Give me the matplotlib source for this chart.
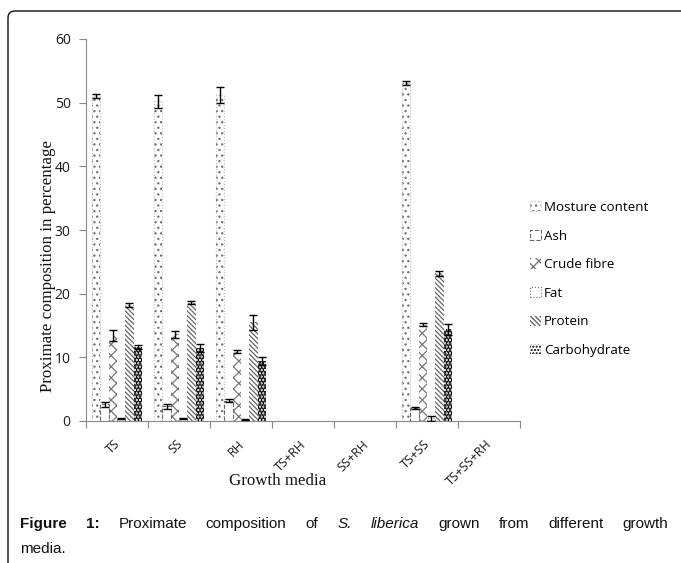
import numpy as np
import matplotlib
matplotlib.use('Agg')
import matplotlib.pyplot as plt
from matplotlib.path import Path
from matplotlib.patches import PathPatch
from matplotlib.transforms import IdentityTransform, ScaledTranslation
from matplotlib.legend_handler import HandlerTuple

# ---------------- data ----------------
categories = ['TS', 'SS', 'RH', 'TS+RH', 'SS+RH', 'TS+SS', 'TS+SS+RH']
series = ['Mosture content', 'Ash', 'Crude fibre', 'Fat', 'Protein', 'Carbohydrate']
nan = np.nan
moisture = [51.1, 50.2, 51.2, nan, nan, 53.1, nan]
moisture_err = [0.3, 1.0, 1.2, nan, nan, 0.25, nan]
ash = [2.6, 2.3, 3.2, nan, nan, 2.0, nan]
ash_err = [0.35, 0.35, 0.25, nan, nan, 0.15, nan]
crude_fibre = [13.4, 13.6, 10.9, nan, nan, 15.1, nan]
crude_fibre_err = [0.9, 0.6, 0.2, nan, nan, 0.25, nan]
fat = [0.4, 0.4, 0.2, nan, nan, 0.4, nan]
fat_err = [0.1, 0.1, 0.1, nan, nan, 0.35, nan]
protein = [18.2, 18.6, 15.5, nan, nan, 23.2, nan]
protein_err = [0.3, 0.3, 1.2, nan, nan, 0.35, nan]
carbohydrate = [11.6, 11.5, 9.4, nan, nan, 14.4, nan]
carbohydrate_err = [0.3, 0.6, 0.6, nan, nan, 0.9, nan]
y_ticks = [0, 10, 20, 30, 40, 50, 60]

values = [moisture, ash, crude_fibre, fat, protein, carbohydrate]
errors = [moisture_err, ash_err, crude_fibre_err, fat_err, protein_err, carbohydrate_err]

# ---------------- styles ----------------
styles = [
    dict(hatch='...', hcolor='#707070', hlw=0.9, edge='#bbbbbb', ls=':'),
    dict(hatch='', hcolor='#666666', hlw=1.0, edge='#666666', ls='--'),
    dict(hatch='xxx', hcolor='#777777', hlw=0.9, edge='none', ls='-'),
    dict(hatch='', hcolor='#777777', hlw=0.9, edge='#777777', ls=':'),
    dict(hatch='\\\\\\\\\\\\\\', hcolor='#666666', hlw=0.9, edge='none', ls='-'),
    dict(hatch='.....', hcolor='#000000', hlw=2.2, edge='none', ls='-'),
]

W, H = 681, 563
fig = plt.figure(figsize=(W / 100, H / 100), dpi=100)
ax = fig.add_axes([86 / W, (H - 421) / H, 434 / W, 382 / H])

sans = ['Open Sans', 'DejaVu Sans']
serif = ['Liberation Serif', 'DejaVu Serif']

x = np.arange(len(categories))
n = len(series)
bw = 1 / 7.5
handles = []
for i, (vals, errs, st) in enumerate(zip(values, errors, styles)):
    pos = x + (i - (n - 1) / 2) * bw
    v = np.array(vals, dtype=float)
    e = np.array(errs, dtype=float)
    with plt.rc_context({'hatch.linewidth': st['hlw']}):
        bars = ax.bar(pos, v, width=bw, facecolor='white', edgecolor=st['hcolor'],
                      hatch=st['hatch'], linewidth=0, label=series[i], zorder=2)
    h = bars
    if st['edge'] != 'none':
        outline = ax.bar(pos, v, width=bw, fill=False, edgecolor=st['edge'],
                         linestyle=st['ls'], linewidth=0.8, zorder=3)
        h = (bars, outline)
    ax.errorbar(pos, v, yerr=e, fmt='none', ecolor='black', elinewidth=1.0,
                capsize=2.6, capthick=1.0, zorder=4)
    handles.append(h)

ax.set_xlim(-0.5, len(categories) - 0.5)
ax.set_ylim(0, 60)
ax.set_yticks(y_ticks)
ax.set_yticklabels([str(t) for t in y_ticks], fontfamily=sans, fontsize=10, color='#1a1a1a')
ax.tick_params(axis='y', length=5, width=0.8, color='#888888', pad=6)

ax.set_xticks(x)
ax.set_xticks(np.arange(len(categories) + 1) - 0.5, minor=True)
ax.tick_params(axis='x', which='major', length=0, pad=12)
ax.tick_params(axis='x', which='minor', length=5, width=0.8, color='#888888')
ax.set_xticklabels(categories, rotation=45, ha='right', va='top',
                   fontfamily=sans, fontsize=9, color='#1a1a1a')
offset = ScaledTranslation(6 / 100, 0, fig.dpi_scale_trans)
for lab in ax.get_xticklabels():
    lab.set_transform(lab.get_transform() + offset)

for s in ['top', 'right']:
    ax.spines[s].set_visible(False)
for s in ['left', 'bottom']:
    ax.spines[s].set_color('#888888')
    ax.spines[s].set_linewidth(0.8)

fig.text(48 / W, 1 - 266 / H, 'Proximate composition in percentage', rotation=90,
         ha='center', va='center', fontfamily=serif, fontsize=12.2, color='#111111')
fig.text(278 / W, 1 - 481 / H, 'Growth media', ha='center', va='center',
         fontfamily=serif, fontsize=12.2, color='#111111')

fig.legend(handles, series, loc='upper left', bbox_to_anchor=(530 / W, 1 - 201 / H),
           frameon=False, handlelength=0.8, handleheight=0.8, handletextpad=0.25,
           labelspacing=1.17, borderpad=0, borderaxespad=0,
           handler_map={tuple: HandlerTuple(ndivide=1)},
           prop={'family': sans, 'size': 9.6})

# frame border (rounded top-left corner)
r = 7
yt = H - 11
verts = [(8, -10), (8, yt - r), (8, yt), (8 + r, yt), (W + 10, yt)]
codes = [Path.MOVETO, Path.LINETO, Path.CURVE3, Path.CURVE3, Path.LINETO]
fig.add_artist(PathPatch(Path(verts, codes), transform=IdentityTransform(),
                         fill=False, edgecolor='#222222', linewidth=1.1))

# caption (justified first line)
cap_size = 11
cap_family = ['Liberation Sans', 'DejaVu Sans']
words = [('Figure', 'bold', 'normal'), ('1:', 'bold', 'normal'),
         ('Proximate', 'normal', 'normal'), ('composition', 'normal', 'normal'),
         ('of', 'normal', 'normal'), ('S.', 'normal', 'italic'),
         ('liberica', 'normal', 'italic'), ('grown', 'normal', 'normal'),
         ('from', 'normal', 'normal'), ('different', 'normal', 'normal'),
         ('growth', 'normal', 'normal')]
renderer = fig.canvas.get_renderer()
texts = []
for w, wt, st in words:
    t = fig.text(0, 1 - 528 / H, w, fontweight=wt, fontstyle=st, fontfamily=cap_family,
                 fontsize=cap_size, va='baseline', ha='left', color='#111111')
    texts.append(t)
widths = [t.get_window_extent(renderer).width for t in texts]
left, right = 20, 668
gap = (right - left - sum(widths)) / (len(texts) - 1)
xp = left
for t, wd in zip(texts, widths):
    t.set_x(xp / W)
    xp += wd + gap
fig.text(left / W, 1 - 553 / H, 'media.', fontfamily=cap_family, fontsize=cap_size,
         va='baseline', ha='left', color='#111111')

fig.savefig('out.png', dpi=100)
